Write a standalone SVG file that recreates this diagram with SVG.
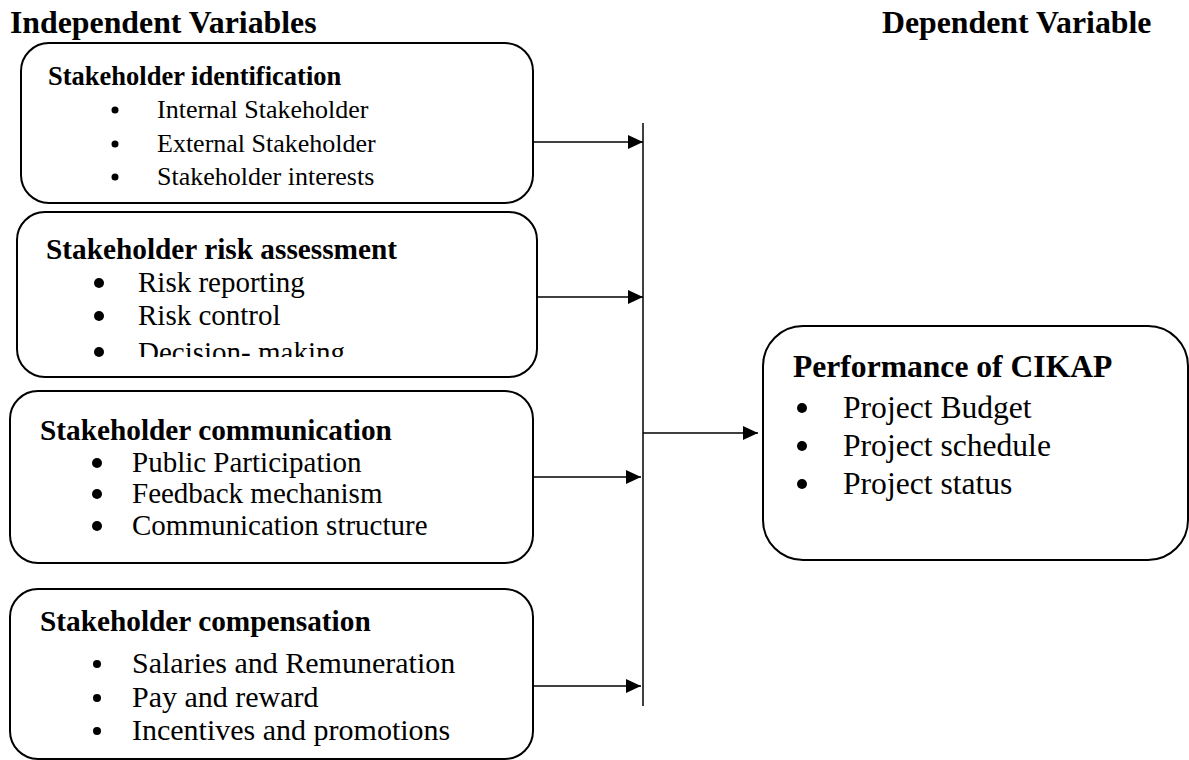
<svg xmlns="http://www.w3.org/2000/svg" width="1189" height="760" viewBox="0 0 1189 760">
  <style>
    .box { fill: #fff; stroke: #000; stroke-width: 2; }
    .title { font-family: "Liberation Serif", "Times New Roman", serif; font-weight: bold; font-size: 31.8px; fill: #000; }
    .head { font-family: "Liberation Serif", "Times New Roman", serif; font-weight: bold; fill: #000; }
    .item { font-family: "Liberation Serif", "Times New Roman", serif; fill: #000; }
    .wire { stroke: #000; stroke-width: 1.5; fill: none; }
  </style>
  <defs>
    <marker id="arrow" markerUnits="userSpaceOnUse" markerWidth="16" markerHeight="14" refX="15" refY="7" orient="auto">
      <path d="M0,0 L15,7 L0,14 Z" fill="#000"/>
    </marker>
    <clipPath id="clip-risk"><rect x="0" y="200" width="560" height="157"/></clipPath>
    <clipPath id="clip-comp"><rect x="0" y="580" width="560" height="168"/></clipPath>
  </defs>
  <rect width="1189" height="760" fill="#fff"/>

  <text class="title" x="10" y="33">Independent Variables</text>
  <text class="title" x="882" y="33">Dependent Variable</text>

  <g id="identification">
    <rect class="box" x="21" y="43" width="512" height="160" rx="28"/>
    <text class="head" x="48" y="85" font-size="26.5">Stakeholder identification</text>
    <circle cx="115" cy="110" r="3.5"/>
    <text class="item" x="157" y="118" font-size="26">Internal Stakeholder</text>
    <circle cx="115" cy="144" r="3.5"/>
    <text class="item" x="157" y="152" font-size="26">External Stakeholder</text>
    <circle cx="115" cy="177" r="3.5"/>
    <text class="item" x="157" y="185" font-size="26">Stakeholder interests</text>
  </g>

  <g id="risk-assessment">
    <rect class="box" x="17" y="212" width="520" height="165" rx="28"/>
    <text class="head" x="46" y="259" font-size="29.3">Stakeholder risk assessment</text>
    <circle cx="99" cy="283" r="5"/>
    <text class="item" x="138" y="292" font-size="29">Risk reporting</text>
    <circle cx="99" cy="316" r="5"/>
    <text class="item" x="138" y="325" font-size="29">Risk control</text>
    <g clip-path="url(#clip-risk)">
      <circle cx="99" cy="352" r="5"/>
      <text class="item" x="138" y="362" font-size="29">Decision- making</text>
    </g>
  </g>

  <g id="communication">
    <rect class="box" x="10" y="391" width="523" height="172" rx="28"/>
    <text class="head" x="40" y="440" font-size="29.3">Stakeholder communication</text>
    <circle cx="97" cy="463" r="5"/>
    <text class="item" x="132" y="472" font-size="29">Public Participation</text>
    <circle cx="97" cy="494" r="5"/>
    <text class="item" x="132" y="503" font-size="29">Feedback mechanism</text>
    <circle cx="97" cy="526" r="5"/>
    <text class="item" x="132" y="535" font-size="29">Communication structure</text>
  </g>

  <g id="compensation">
    <rect class="box" x="10" y="589" width="523" height="170" rx="28"/>
    <text class="head" x="40" y="631" font-size="29.3">Stakeholder compensation</text>
    <circle cx="97" cy="664" r="4"/>
    <text class="item" x="132" y="673" font-size="30">Salaries and Remuneration</text>
    <circle cx="97" cy="698" r="4"/>
    <text class="item" x="132" y="707" font-size="30">Pay and reward</text>
    <g clip-path="url(#clip-comp)">
      <circle cx="97" cy="731" r="4"/>
      <text class="item" x="132" y="740" font-size="30">Incentives and promotions</text>
    </g>
  </g>

  <g id="performance">
    <rect class="box" x="763" y="326" width="425" height="234" rx="40"/>
    <text class="head" x="793" y="377" font-size="31.6">Performance of CIKAP</text>
    <circle cx="802" cy="408" r="5"/>
    <text class="item" x="843" y="418" font-size="31.6">Project Budget</text>
    <circle cx="802" cy="446" r="5"/>
    <text class="item" x="843" y="456" font-size="31.6">Project schedule</text>
    <circle cx="802" cy="484" r="5"/>
    <text class="item" x="843" y="494" font-size="31.6">Project status</text>
  </g>

  <g id="connectors">
    <line class="wire" x1="643" y1="123" x2="643" y2="706"/>
    <line class="wire" x1="533" y1="142" x2="643" y2="142" marker-end="url(#arrow)"/>
    <line class="wire" x1="537" y1="297" x2="643" y2="297" marker-end="url(#arrow)"/>
    <line class="wire" x1="533" y1="477" x2="641" y2="477" marker-end="url(#arrow)"/>
    <line class="wire" x1="533" y1="686" x2="641" y2="686" marker-end="url(#arrow)"/>
    <line class="wire" x1="643" y1="433" x2="758" y2="433" marker-end="url(#arrow)"/>
  </g>
</svg>
